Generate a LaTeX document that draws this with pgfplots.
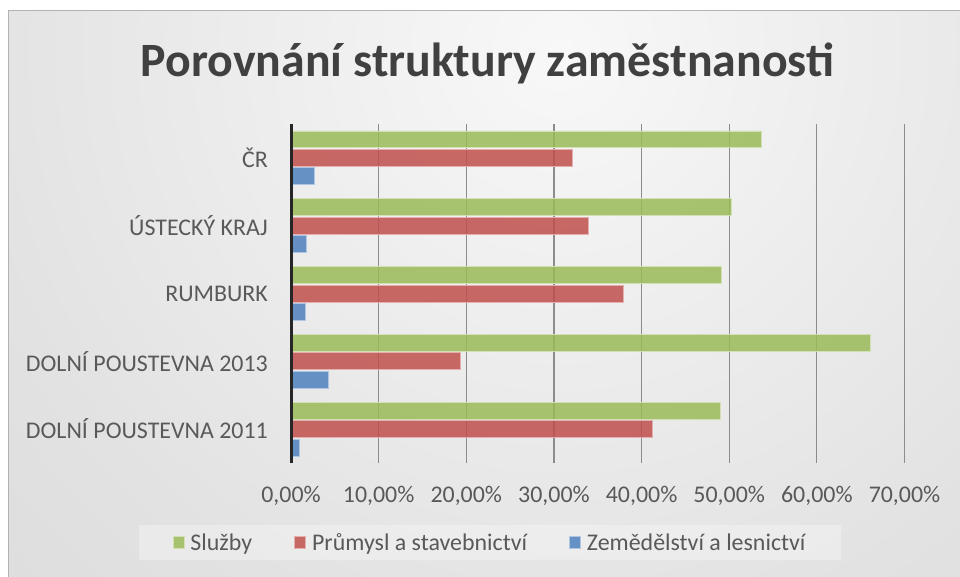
\documentclass[border=0pt]{standalone}
\usepackage{pgfplots}
\pgfplotsset{compat=1.18}
\usepackage{fontspec}
\setmainfont{Carlito}
\definecolor{cgreen}{HTML}{9BBB59}
\definecolor{cred}{HTML}{C0504D}
\definecolor{cblue}{HTML}{4F81BD}
\definecolor{txt}{HTML}{595959}
\definecolor{ttl}{HTML}{404040}
\definecolor{bgA}{HTML}{F8F8F8}
\definecolor{bgB}{HTML}{E2E2E2}
\definecolor{bgC}{HTML}{D3D3D3}
\definecolor{bgD}{HTML}{C8C8C8}
\pgfdeclareradialshading{bgshade}{\pgfpoint{0bp}{0bp}}{color(0bp)=(bgA); color(18.75bp)=(bgB); color(37.5bp)=(bgC); color(50bp)=(bgD)}
\begin{document}
\begin{tikzpicture}[x=1bp,y=1bp]
\fill[white] (0,0) rectangle (960,577);
\begin{scope}
\clip (8,0) rectangle (960,566);
\shade[shading=bgshade] (560,527) circle (800);
\end{scope}
\draw[black!30, line width=1bp] (8,0) -- (8,566) -- (960,566);
\node[anchor=base, text=ttl, font=\fontsize{48}{54}\selectfont\bfseries] at (487.5,500) {Porovnání struktury zaměstnanosti};
\begin{axis}[
  at={(291bp,114bp)}, anchor=south west,
  scale only axis, width=613.5bp, height=339bp,
  xbar, bar width=0.25,
  xmin=0, xmax=70, ymin=-0.5, ymax=4.5,
  xtick={0,10,20,30,40,50,60,70},
  xticklabels={{0,00\%},{10,00\%},{20,00\%},{30,00\%},{40,00\%},{50,00\%},{60,00\%},{70,00\%}},
  ytick={0,1,2,3,4},
  yticklabels={DOLNÍ POUSTEVNA 2011,DOLNÍ POUSTEVNA 2013,RUMBURK,ÚSTECKÝ KRAJ,ČR},
  major tick length=0pt,
  axis line style={draw=none},
  xmajorgrids, ymajorgrids=false,
  major grid style={draw=black!45, line width=1.2bp},
  ticklabel style={font=\fontsize{24}{27}\selectfont, text=txt, inner sep=0pt},
  xticklabel style={anchor=center, yshift=-33bp},
  yticklabel style={anchor=east, xshift=-23bp},
  legend columns=3,
  legend style={at={(axis description cs:0.3244,-0.2345)}, anchor=center,
    draw=none, fill=white, fill opacity=0.3, text opacity=1,
    font=\fontsize{24}{27}\selectfont, text=txt,
    inner xsep=34bp, inner ysep=6bp,
    /tikz/every even column/.append style={column sep=40bp}},
  legend image code/.code={\fill[#1] (0bp,-6bp) rectangle (11bp,6bp); \path (15bp,0bp);},
  clip=false,
]
\addplot[bar shift=0.272, fill=cgreen, fill opacity=0.85, draw=cgreen!45!white, line width=0.9bp] coordinates {(49.0,0) (66.1,1) (49.1,2) (50.3,3) (53.7,4)};
\addlegendentry{Služby}
\addplot[bar shift=0, fill=cred, fill opacity=0.85, draw=cred!45!white, line width=0.9bp] coordinates {(41.2,0) (19.3,1) (37.9,2) (33.9,3) (32.1,4)};
\addlegendentry{Průmysl a stavebnictví}
\addplot[bar shift=-0.272, fill=cblue, fill opacity=0.85, draw=cblue!45!white, line width=0.9bp] coordinates {(1.0,0) (4.3,1) (1.6,2) (1.8,3) (2.7,4)};
\addlegendentry{Zemědělství a lesnictví}
\draw[black!85, line width=3bp] (axis cs:0,-0.5) -- (axis cs:0,4.5);
\end{axis}
\pgfresetboundingbox
\useasboundingbox (0,0) rectangle (960,577);
\end{tikzpicture}
\end{document}
